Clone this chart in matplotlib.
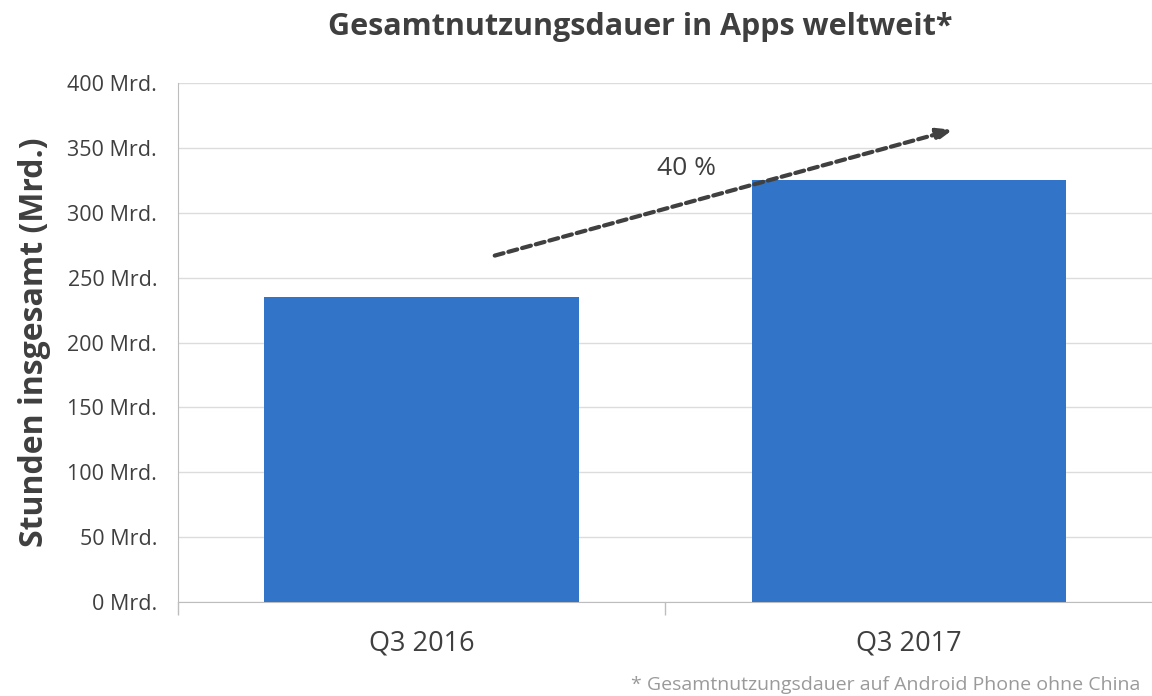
import matplotlib
matplotlib.use("Agg")
import matplotlib.pyplot as plt
import numpy as np

# ── data ──────────────────────────────────────────────────────────────────────
categories = ["Q3 2016", "Q3 2017"]
hours_bn   = [235, 325]
y_ticks    = [0, 50, 100, 150, 200, 250, 300, 350, 400]
y_labels   = [f"{v} Mrd." for v in y_ticks]
growth_txt = "40 %"

# ── style ─────────────────────────────────────────────────────────────────────
plt.rcParams.update({
    "font.family": ["Open Sans", "DejaVu Sans"],
})
BAR   = "#3174C8"
TEXT  = "#3F3F3F"
GRID  = "#DCDCDC"
AXIS  = "#BDBDBD"
NOTE  = "#9A9A9A"

fig = plt.figure(figsize=(11.52, 6.96), dpi=100)
ax = fig.add_axes([0.1545, 0.135, 0.846, 0.7457])

x = np.arange(len(categories))
ax.bar(x, hours_bn, width=0.645, color=BAR, zorder=3)

ax.set_xlim(-0.5, 1.5)
ax.set_ylim(0, 400)
ax.set_yticks(y_ticks)
ax.set_yticklabels(y_labels, fontsize=15.5, color=TEXT)
ax.set_xticks(x)
ax.set_xticklabels(categories, fontsize=19.5, color=TEXT)
ax.set_xticks([-0.5, 0.5, 1.5], minor=True)
ax.tick_params(axis="x", which="major", length=0, pad=20)
ax.tick_params(axis="x", which="minor", length=9, color=AXIS, width=1)
ax.tick_params(axis="y", length=0, pad=15)

ax.grid(axis="y", color=GRID, linewidth=1, zorder=0)
for side in ("top", "right"):
    ax.spines[side].set_visible(False)
ax.spines["left"].set_color(AXIS)
ax.spines["bottom"].set_color(AXIS)

ax.set_ylabel("Stunden insgesamt (Mrd.)", fontsize=23, fontweight="bold",
              color=TEXT, labelpad=12)

# growth arrow
ax.annotate("", xy=(1.09, 364), xytext=(0.15, 267),
            arrowprops=dict(arrowstyle="-|>,head_length=0.9,head_width=0.35",
                            color="#404040", lw=3, linestyle=(0, (2.2, 1.2)),
                            shrinkA=0, shrinkB=0),
            zorder=5)
ax.text(0.543, 334, growth_txt, fontsize=19, color=TEXT,
        ha="center", va="center", zorder=6)

fig.text(0.5556, 0.961, "Gesamtnutzungsdauer in Apps weltweit*",
         fontsize=22, fontweight="bold", color=TEXT, ha="center", va="center")
fig.text(0.99, 0.016, "* Gesamtnutzungsdauer auf Android Phone ohne China",
         fontsize=14, color=NOTE, ha="right", va="center")

fig.savefig("out.png", dpi=100)
